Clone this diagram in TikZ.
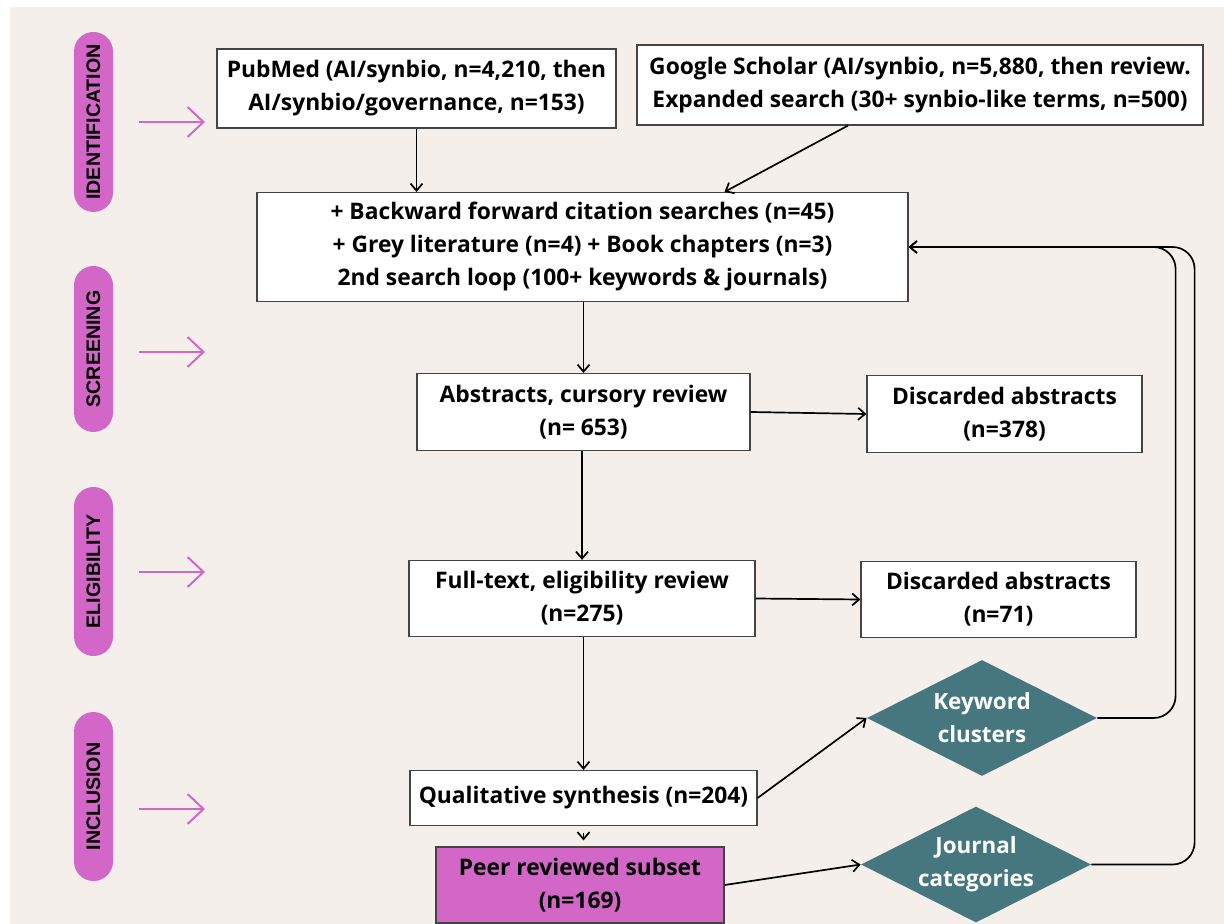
\documentclass[tikz,border=0pt]{standalone}
\usepackage{fontspec}
\setmainfont{Open Sans}
\newfontfamily\phasefont{Liberation Sans}
\usetikzlibrary{arrows.meta,shapes.geometric}

\definecolor{paper}{HTML}{F4EFEB}
\definecolor{orchid}{HTML}{D267C8}
\definecolor{slate}{HTML}{46777F}
\definecolor{rim}{HTML}{444444}

\tikzset{
  box/.style={draw=rim, line width=0.6pt, fill=white, align=center, inner sep=0pt,
    font=\bfseries\fontsize{11.4}{16.5}\selectfont},
  phase/.style={fill=orchid, rounded corners=9.75pt, rotate=90, inner sep=0pt,
    minimum height=19.5pt, font=\phasefont\bfseries\fontsize{9.8}{12}\selectfont},
  choice/.style={diamond, fill=slate, inner sep=0pt,
    minimum width=115pt, minimum height=58pt},
  choicetext/.style={text=white, align=center, font=\bfseries\fontsize{11.2}{16.5}\selectfont},
  flow/.style={-{Straight Barb[length=3.5pt,width=6pt]}, line width=0.85pt},
  phasearrow/.style={-{Straight Barb[length=8pt,width=15pt]}, draw=orchid, line width=1pt}
}

\begin{document}
\begin{tikzpicture}[x=0.5pt, y=-0.5pt]
  % Draw the page and its background
  \useasboundingbox (0,0) rectangle (1224,924);
  \fill[white] (0,0) rectangle (1224,924);
  \fill[paper] (10,7) rectangle (1224,924);

  % Draw the phase labels on the left
  \node[phase, minimum width=90pt] (ident) at (93.5,122) {IDENTIFICATION};
  \node[phase, minimum width=83pt] (screen) at (93.5,349) {SCREENING};
  \node[phase, minimum width=84.5pt] (elig) at (93.5,571.5) {ELIGIBILITY};
  \node[phase, minimum width=84.5pt] (incl) at (93.5,796.5) {INCLUSION};

  % Draw the pink arrows next to the phases
  \foreach \y [count=\i] in {122,352,572,809} {
    \coordinate (pa\i) at (139,\y);
    \coordinate (pb\i) at (205,\y);
    \draw[phasearrow] (pa\i) -- (pb\i);
  }

  % Draw the search sources
  \node[box, minimum width=199.5pt, minimum height=39.5pt] (pubmed) at (416.5,88.5)
    {PubMed (AI/synbio, n=4,210, then\\AI/synbio/governance, n=153)};
  \node[box, minimum width=283pt, minimum height=40pt] (scholar) at (920,85)
    {Google Scholar (AI/synbio, n=5,880, then review.\\Expanded search (30+ synbio-like terms, n=500)};
  \node[box, minimum width=325.5pt, minimum height=54.5pt] (gather) at (582.5,247)
    {+ Backward forward citation searches (n=45)\\+ Grey literature (n=4) + Book chapters (n=3)\\2nd search loop (100+ keywords \& journals)};

  % Draw the review steps
  \node[box, minimum width=166.5pt, minimum height=38.5pt] (abstracts) at (583.5,412)
    {Abstracts, cursory review\\(n= 653)};
  \node[box, minimum width=137.5pt, minimum height=38.5pt] (discardA) at (1004.5,414)
    {Discarded abstracts\\(n=378)};
  \node[box, minimum width=173pt, minimum height=38pt] (fulltext) at (582,598.5)
    {Full-text, eligibility review\\(n=275)};
  \node[box, minimum width=137.5pt, minimum height=38pt] (discardB) at (998.5,599.5)
    {Discarded abstracts\\(n=71)};
  \node[box, minimum width=173.5pt, minimum height=27.5pt] (synthesis) at (583.5,798)
    {Qualitative synthesis (n=204)};
  \node[box, fill=orchid, minimum width=144pt, minimum height=38pt] (peer) at (580,885)
    {Peer reviewed subset\\(n=169)};

  % Draw the two outcome diamonds
  \node[choice, label={[choicetext]center:Keyword\\clusters}] (keyword) at (982,718) {};
  \node[choice, label={[choicetext]center:Journal\\categories}] (journal) at (976,864.5) {};

  % Connect the steps
  \draw[flow] (pubmed.south) -- (pubmed.south |- gather.north);
  \draw[flow] ([xshift=-36pt]scholar.south) -- ([xshift=71pt]gather.north);
  \draw[flow] (gather.south -| abstracts.north) -- (abstracts.north);
  \draw[flow] (abstracts.east) -- (discardA.west);
  \draw[flow] (abstracts.south -| fulltext.north) -- (fulltext.north);
  \draw[flow] (fulltext.east) -- (discardB.west);
  \draw[flow] (fulltext.south -| synthesis.north) -- (synthesis.north);
  \draw[flow, shorten <=3.5pt, shorten >=3pt] (synthesis.south) -- (synthesis.south |- peer.north);
  \draw[flow] (synthesis.east) -- (keyword.west);
  \draw[flow] (peer.east) -- (journal.west);

  % Loop back to the search
  \draw[flow, rounded corners=11pt] (keyword.east) -| ([xshift=133.5pt]gather.east) -- (gather.east);
  \draw[flow, rounded corners=11pt] (journal.east) -| ([xshift=143pt]gather.east) -- (gather.east);
\end{tikzpicture}
\end{document}
